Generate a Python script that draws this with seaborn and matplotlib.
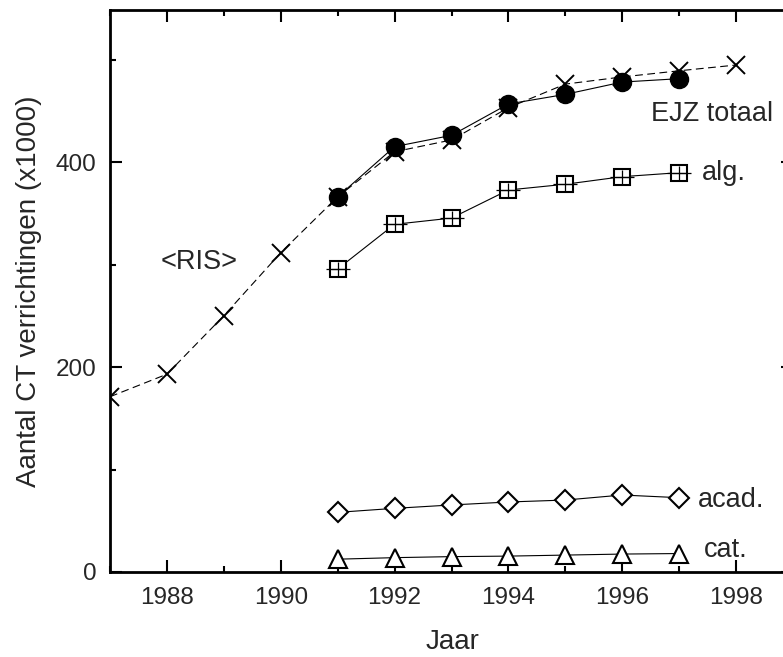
import matplotlib
matplotlib.use("Agg")
import matplotlib.pyplot as plt
from matplotlib.ticker import MultipleLocator
import seaborn as sns
import pandas as pd

# Jaarlijkse aantallen CT-verrichtingen (x1000)
jaren_ris = [1987, 1988, 1989, 1990, 1991, 1992, 1993, 1994, 1995, 1996, 1997, 1998]
ris = [171, 193, 250, 311.5, 366, 410, 421.5, 453, 476, 483, 489, 494.6]

jaren = [1991, 1992, 1993, 1994, 1995, 1996, 1997]
ejz_totaal = [366, 415, 426, 456.6, 466, 478, 481.3]
alg = [295.6, 339.2, 345.3, 372.7, 378.3, 385.7, 389.6]
acad = [58.2, 62.1, 65.4, 68.3, 70.2, 75.1, 72.5]
cat = [12.5, 14, 15, 15.5, 16.5, 17.5, 18]

labels = ["<RIS>", "EJZ totaal", "alg.", "acad.", "cat."]

sns.set_style("ticks")
plt.rcParams["font.family"] = ["Liberation Sans", "DejaVu Sans"]

fig = plt.figure(figsize=(7.83, 6.57), dpi=100)
ax = fig.add_axes([110 / 783, 85 / 657, 683 / 783, 562 / 657])

df_ris = pd.DataFrame({"jaar": jaren_ris, "n": ris})
df = pd.DataFrame({"jaar": jaren, "ejz": ejz_totaal, "alg": alg,
                   "acad": acad, "cat": cat})

lw = 0.8
# RIS: gestippelde lijn met kruisjes
sns.lineplot(data=df_ris, x="jaar", y="n", ax=ax, color="black", lw=lw,
             dashes=False, linestyle=(0, (7, 4)), marker="x", markersize=12.5,
             markeredgewidth=1.4, markeredgecolor="black", zorder=2)
# EJZ totaal: gevulde cirkels
sns.lineplot(data=df, x="jaar", y="ejz", ax=ax, color="black", lw=lw,
             marker="o", markersize=13, markerfacecolor="black",
             markeredgecolor="black", markeredgewidth=1.0, zorder=3)
# algemene ziekenhuizen: vierkant met kruis
sns.lineplot(data=df, x="jaar", y="alg", ax=ax, color="black", lw=lw,
             marker="s", markersize=11, markerfacecolor="white",
             markeredgecolor="black", markeredgewidth=1.5, zorder=3)
sns.lineplot(data=df, x="jaar", y="alg", ax=ax, color="black", lw=0,
             marker="+", markersize=10, markeredgecolor="black",
             markeredgewidth=0.9, zorder=4)
sns.lineplot(data=df, x="jaar", y="alg", ax=ax, color="black", lw=0,
             marker="_", markersize=17, markeredgecolor="black",
             markeredgewidth=0.9, zorder=4)
# academische ziekenhuizen: ruiten
sns.lineplot(data=df, x="jaar", y="acad", ax=ax, color="black", lw=lw,
             marker="D", markersize=10, markerfacecolor="white",
             markeredgecolor="black", markeredgewidth=1.5, zorder=3)
# categorale ziekenhuizen: driehoeken
sns.lineplot(data=df, x="jaar", y="cat", ax=ax, color="black", lw=lw,
             marker="^", markersize=12.5, markerfacecolor="white",
             markeredgecolor="black", markeredgewidth=1.5, zorder=3)

# series labels
fs_lab = 19.5
ax.text(1987.89, 295.3, labels[0], fontsize=fs_lab, ha="left", va="baseline")
ax.text(1996.51, 440.3, labels[1], fontsize=fs_lab, ha="left", va="baseline")
ax.text(1997.40, 382.4, labels[2], fontsize=fs_lab, ha="left", va="baseline")
ax.text(1997.32, 63.1, labels[3], fontsize=fs_lab, ha="left", va="baseline")
ax.text(1997.44, 14.3, labels[4], fontsize=fs_lab, ha="left", va="baseline")

ax.set_xlim(1987, 1999)
ax.set_ylim(0, 548.3)
ax.xaxis.set_major_locator(MultipleLocator(2))
ax.xaxis.set_minor_locator(MultipleLocator(1))
ax.yaxis.set_major_locator(MultipleLocator(200))
ax.yaxis.set_minor_locator(MultipleLocator(100))

for s in ax.spines.values():
    s.set_visible(True)
    s.set_linewidth(2.0)
    s.set_color("black")

ax.tick_params(which="both", direction="in", top=True, right=True,
               width=1.5, color="black")
ax.tick_params(which="major", length=8.6)
ax.tick_params(which="minor", length=4.3)
ax.tick_params(axis="x", which="major", labelsize=17.5, pad=11)
ax.tick_params(axis="y", which="major", labelsize=17.5, pad=9.6)

ax.set_xlabel("Jaar", fontsize=20)
ax.set_ylabel("Aantal CT verrichtingen (x1000)", fontsize=20)
ax.xaxis.set_label_coords(0.502, -0.101)
ax.yaxis.set_label_coords(-0.099, 0.5)

fig.savefig("out.png", dpi=100)
